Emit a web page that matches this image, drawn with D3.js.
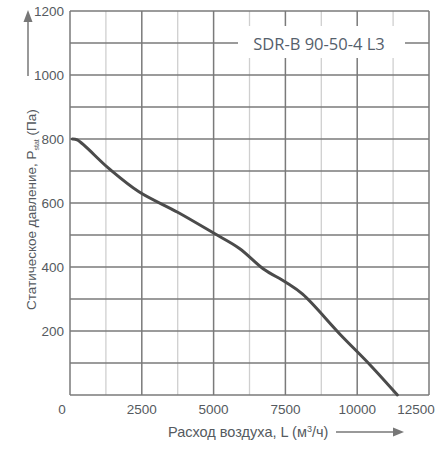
<!DOCTYPE html>
<html><head><meta charset="utf-8">
<script src="https://cdn.jsdelivr.net/npm/d3@7/dist/d3.min.js"></script>
<style>html,body{margin:0;padding:0;background:#fff;}</style>
</head><body>
<svg id="c" width="443" height="450"></svg>
<script>
const flow = [80, 250, 1350, 2400, 3750, 5000, 5900, 6750, 7500, 8100, 9400, 10450, 11400];
const pressure = [800, 797, 708, 635, 571, 506, 458, 393, 353, 315, 190, 94, 0];
const xTicks = [0, 2500, 5000, 7500, 10000, 12500];
const yTicks = [200, 400, 600, 800, 1000, 1200];
const title = "SDR-B 90-50-4 L3";

const svg = d3.select("#c");
const m = {l: 70, t: 11, r: 429, b: 395};
const x = d3.scaleLinear().domain([0, 12500]).range([m.l, m.r]);
const y = d3.scaleLinear().domain([0, 1200]).range([m.b, m.t]);
const font = "Liberation Sans, Arial, sans-serif";
const dark = "#7a7a7a", light = "#cfcfcf", txt = "#555a60";

const g = svg.append("g");
g.selectAll("line.vm").data(d3.range(1250, 12500, 2500)).join("line")
  .attr("x1", d => x(d)).attr("x2", d => x(d)).attr("y1", m.t).attr("y2", m.b)
  .attr("stroke", light).attr("stroke-width", 1.3);
g.selectAll("line.vM").data(xTicks).join("line")
  .attr("x1", d => x(d)).attr("x2", d => x(d)).attr("y1", m.t).attr("y2", m.b)
  .attr("stroke", dark).attr("stroke-width", 1.5);
g.selectAll("line.h").data(d3.range(0, 1201, 100)).join("line")
  .attr("x1", m.l).attr("x2", m.r).attr("y1", d => y(d)).attr("y2", d => y(d))
  .attr("stroke", dark).attr("stroke-width", 1.5);

// title box
svg.append("rect").attr("x", 238).attr("y", 26).attr("width", 167).attr("height", 32).attr("fill", "#fff");
svg.append("text").attr("x", 319).attr("y", 50).attr("text-anchor", "middle")
  .attr("font-family", "Open Sans, sans-serif").attr("font-size", 16.5).attr("fill", "#55606c")
  .text(title);

// curve
svg.append("path").datum(flow.map((f, i) => [f, pressure[i]]))
  .attr("d", d3.line().x(d => x(d[0])).y(d => y(d[1])).curve(d3.curveCatmullRom.alpha(0.5)))
  .attr("fill", "none").attr("stroke", "#4b4b4b").attr("stroke-width", 3).attr("stroke-linecap", "round");

// y tick labels
svg.selectAll("text.yt").data(yTicks).join("text")
  .attr("x", 64).attr("y", d => y(d) + 5).attr("text-anchor", "end")
  .attr("font-family", font).attr("font-size", 13.5).attr("fill", txt).text(d => d);

// x tick labels
svg.selectAll("text.xt").data(xTicks).join("text")
  .attr("x", d => x(d)).attr("dx", (d, i) => i === 0 ? -8 : (i === xTicks.length - 1 ? -13 : 0))
  .attr("y", 414).attr("text-anchor", "middle")
  .attr("font-family", font).attr("font-size", 13.5).attr("fill", txt).text(d => d);

// x title
const xt = svg.append("text").attr("x", 168).attr("y", 437)
  .attr("font-family", font).attr("font-size", 14.5).attr("fill", txt);
xt.append("tspan").text("Расход воздуха, L (м");
xt.append("tspan").attr("font-size", 9).attr("dy", -5).text("3");
xt.append("tspan").attr("dy", 5).text("/ч)");
svg.append("line").attr("x1", 336).attr("x2", 395).attr("y1", 432).attr("y2", 432)
  .attr("stroke", "#777").attr("stroke-width", 1.5);
svg.append("path").attr("d", "M404,432 L393,427.5 L393,436.5 Z").attr("fill", "#777");

// y title
const yt = svg.append("text").attr("transform", "translate(36,310) rotate(-90)")
  .attr("font-family", font).attr("font-size", 13.5).attr("fill", txt);
yt.append("tspan").text("Статическое давление, P");
yt.append("tspan").attr("font-size", 7).attr("dy", 3).text("stat");
yt.append("tspan").attr("dy", -3).text(" (Па)");
svg.append("line").attr("x1", 28).attr("x2", 28).attr("y1", 76).attr("y2", 20)
  .attr("stroke", "#777").attr("stroke-width", 1.5);
svg.append("path").attr("d", "M28,10 L23.5,22 L32.5,22 Z").attr("fill", "#777");
</script>
</body></html>
